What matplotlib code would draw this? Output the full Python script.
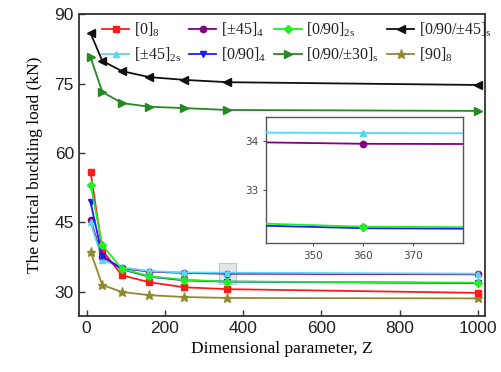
import numpy as np
import matplotlib
matplotlib.use("Agg")
import matplotlib.pyplot as plt
from matplotlib.patches import Rectangle

plt.rcParams['mathtext.default'] = 'regular'

# buckling load (kN) vs dimensional parameter Z for each layup
Z = [10, 40, 90, 160, 250, 360, 1000]
load_0_8 = [55.9, 39.0, 33.6, 32.1, 31.0, 30.6, 29.8]
load_45_4 = [45.5, 37.6, 35.1, 34.4, 34.1, 33.94, 33.8]
load_45_2s = [45.1, 36.9, 35.3, 34.5, 34.2, 34.16, 33.95]
load_090_4 = [49.4, 37.8, 34.9, 33.3, 32.5, 32.22, 31.9]
load_090_2s = [53.2, 40.1, 35.0, 33.4, 32.6, 32.25, 32.0]
load_q45 = [85.9, 79.9, 77.7, 76.4, 75.8, 75.3, 74.7]
load_q30 = [80.7, 73.2, 70.8, 70.0, 69.7, 69.3, 69.1]
load_90_8 = [38.7, 31.5, 30.0, 29.3, 28.9, 28.7, 28.6]

labels = [r'[0]$_{8}$', r'[±45]$_{4}$', r'[0/90]$_{2s}$', r'[0/90/±45]$_{s}$',
          r'[±45]$_{2s}$', r'[0/90]$_{4}$', r'[0/90/±30]$_{s}$', r'[90]$_{8}$']
series = [load_0_8, load_45_4, load_090_2s, load_q45,
          load_45_2s, load_090_4, load_q30, load_90_8]
colors = ['#ff1a1a', '#800080', '#22ee22', '#111111',
          '#55d8f5', '#1a1aff', '#238b23', '#8f8a30']
markers = ['s', 'o', 'D', '<', '^', 'v', '>', '*']
msizes = [4.3, 4.5, 4, 5.5, 5, 5, 5.5, 6.5]
zorders = [3, 2.5, 3.2, 2, 2.6, 3.1, 2, 2]

fig = plt.figure(figsize=(5.02, 3.72), dpi=100)
ax = fig.add_axes([0.157, 0.1505, 0.809, 0.8115])

lines = {}
for lab, y, c, m, ms, zo in zip(labels, series, colors, markers, msizes, zorders):
    ln, = ax.plot(Z, y, color=c, marker=m, markersize=ms, lw=1.3, label=lab, zorder=zo)
    lines[lab] = ln

ax.set_xlim(-20, 1018)
ax.set_ylim(24.8, 90)
ax.set_xticks([0, 200, 400, 600, 800, 1000])
ax.set_yticks([30, 45, 60, 75, 90])
ax.tick_params(direction='in', length=4, width=1, labelsize=12.5, color='#333333',
               labelcolor='#222222')
for t in ax.get_xticklabels() + ax.get_yticklabels():
    t.set_fontfamily('Liberation Sans')
for s in ax.spines.values():
    s.set_linewidth(1.3)
    s.set_color('#333333')
ax.set_xlabel('Dimensional parameter, Z', family='Liberation Serif', fontsize=12.5, labelpad=4)
ax.set_ylabel('The critical buckling load (kN)', family='Liberation Serif', fontsize=12.5, labelpad=8)

# legend fills column-wise, so reorder to read row by row
order = [0, 4, 1, 5, 2, 6, 3, 7]
hs = [lines[labels[i]] for i in order]
ls = [labels[i] for i in order]
leg = ax.legend(hs, ls, ncol=4, frameon=False, loc='upper left', bbox_to_anchor=(0.03, 1.015),
                prop={'family': 'Liberation Serif', 'size': 11.5}, handlelength=1.7,
                handletextpad=0.3, columnspacing=0.5, labelspacing=0.4, borderaxespad=0.3)
for t in leg.get_texts():
    t.set_color('#222222')

# zoomed view around Z = 360
axins = fig.add_axes([0.530, 0.347, 0.392, 0.339])
for lab, y, c, m, ms, zo in zip(labels, series, colors, markers, msizes, zorders):
    axins.plot(Z, y, color=c, marker=m, markersize=ms, lw=1.3, zorder=zo)
axins.set_xlim(340.5, 380)
axins.set_ylim(31.92, 34.49)
axins.set_xticks([350, 360, 370])
axins.set_yticks([33, 34])
axins.tick_params(direction='out', length=2, width=0.8, labelsize=7.5,
                  color='#555555', labelcolor='#444444')
for s in axins.spines.values():
    s.set_linewidth(1.0)
    s.set_color('#555555')

ax.add_patch(Rectangle((338, 31.8), 44, 4.5, facecolor='#c8ccd4', edgecolor='#9aa0aa',
                       alpha=0.5, lw=0.8, zorder=1))

fig.savefig('out.png', dpi=100)
